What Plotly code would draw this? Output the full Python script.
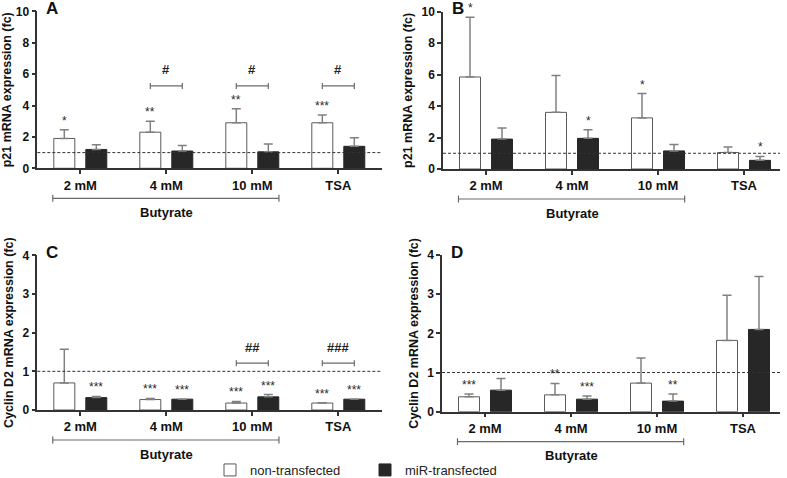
import plotly.graph_objects as go

# ---------------- data ----------------
categories = ["2 mM", "4 mM", "10 mM", "TSA"]
series_names = ["non-transfected", "miR-transfected"]
group_label = "Butyrate"

# Panel A: p21 (values, upper end of error bar)
a_non = [1.9, 2.3, 2.9, 2.9]
a_non_top = [2.45, 3.0, 3.8, 3.4]
a_mir = [1.2, 1.1, 1.05, 1.4]
a_mir_top = [1.5, 1.45, 1.55, 1.95]
a_non_sig = ["*", "**", "**", "***"]
a_mir_sig = ["", "", "", ""]
a_hash = ["", "#", "#", "#"]

# Panel B: p21
b_non = [5.85, 3.6, 3.25, 1.05]
b_non_top = [9.65, 5.95, 4.8, 1.4]
b_mir = [1.9, 1.95, 1.15, 0.55]
b_mir_top = [2.6, 2.5, 1.55, 0.8]
b_non_sig = ["*", "", "*", ""]
b_mir_sig = ["", "*", "", "*"]
b_hash = ["", "", "", ""]

# Panel C: Cyclin D2
c_non = [0.7, 0.27, 0.18, 0.18]
c_non_top = [1.57, 0.3, 0.22, 0.19]
c_mir = [0.32, 0.28, 0.34, 0.28]
c_mir_top = [0.35, 0.28, 0.4, 0.28]
c_non_sig = ["", "***", "***", "***"]
c_mir_sig = ["***", "***", "***", "***"]
c_hash = ["", "", "##", "###"]

# Panel D: Cyclin D2
d_non = [0.38, 0.43, 0.73, 1.82]
d_non_top = [0.45, 0.72, 1.37, 2.97]
d_mir = [0.55, 0.32, 0.27, 2.1]
d_mir_top = [0.85, 0.4, 0.45, 3.45]
d_non_sig = ["***", "**", "", ""]
d_mir_sig = ["", "***", "**", ""]
d_hash = ["", "", "", ""]

# ---------------- style / layout ----------------
W, H = 787, 478
FONT = "Liberation Sans, Arial, sans-serif"
AX = "#333333"
WHITE_LINE = "#5a5a5a"
DARK = "#272727"
ERR = "#808080"
CAT_PX = 86
BARGAP = 0.256
BARGROUPGAP = 0.344
OFF = (1 - BARGAP) / 4  # centre offset of each bar within its category


def fx(px):
    return px / W


def fy(py):
    return 1 - py / H


panels = [
    dict(letter="A", sx="", non=a_non, non_top=a_non_top, mir=a_mir, mir_top=a_mir_top,
         non_sig=a_non_sig, mir_sig=a_mir_sig, hash=a_hash, hash_level=5.25,
         xpx=(37.3, 382), ypx=(168.3, 11.3), ymax=10, dtick=2,
         title="p21 mRNA expression (fc)", legend=True),
    dict(letter="B", sx="2", non=b_non, non_top=b_non_top, mir=b_mir, mir_top=b_mir_top,
         non_sig=b_non_sig, mir_sig=b_mir_sig, hash=b_hash, hash_level=None,
         xpx=(443, 780), ypx=(169, 11.7), ymax=10, dtick=2,
         title="p21 mRNA expression (fc)", legend=False),
    dict(letter="C", sx="3", non=c_non, non_top=c_non_top, mir=c_mir, mir_top=c_mir_top,
         non_sig=c_non_sig, mir_sig=c_mir_sig, hash=c_hash, hash_level=1.21,
         xpx=(37.3, 382), ypx=(410, 255.3), ymax=4, dtick=1,
         title="Cyclin D2 mRNA expression (fc)", legend=False),
    dict(letter="D", sx="4", non=d_non, non_top=d_non_top, mir=d_mir, mir_top=d_mir_top,
         non_sig=d_non_sig, mir_sig=d_mir_sig, hash=d_hash, hash_level=None,
         xpx=(442, 780), ypx=(411.7, 255), ymax=4, dtick=1,
         title="Cyclin D2 mRNA expression (fc)", legend=False),
]

fig = go.Figure()
layout = dict(
    width=W, height=H, margin=dict(l=0, r=0, t=0, b=0, autoexpand=False),
    paper_bgcolor="white", plot_bgcolor="white",
    barmode="group", bargap=BARGAP, bargroupgap=BARGROUPGAP,
    font=dict(family=FONT, color="#222222"),
    showlegend=True,
)
shapes, annotations = [], []


def sig_annot(xref, yref, x, y, text):
    annotations.append(dict(xref=xref, yref=yref, x=x, y=y, text=text, showarrow=False,
                            yanchor="bottom", yshift=0,
                            font=dict(size=12, color="#2a2a2a", family=FONT)))


for p in panels:
    sx = p["sx"]
    xa, ya = "x" + sx, "y" + sx
    x0, x1 = p["xpx"]
    yb, yt = p["ypx"]
    ncat = (x1 - x0) / CAT_PX
    for name, vals, tops, fill, line in [
        (series_names[0], p["non"], p["non_top"], "white", WHITE_LINE),
        (series_names[1], p["mir"], p["mir_top"], DARK, DARK),
    ]:
        fig.add_trace(go.Bar(
            x=categories, y=vals, name=name, legendgroup=name, showlegend=p["legend"],
            xaxis=xa, yaxis=ya,
            marker=dict(color=fill, line=dict(color=line, width=1)),
            error_y=dict(type="data", symmetric=False,
                         array=[t - v for t, v in zip(tops, vals)],
                         arrayminus=[0] * len(vals),
                         color=ERR, thickness=1.5, width=4.5),
        ))
    ax_common = dict(showline=True, linecolor=AX, linewidth=1.5, ticks="outside",
                     ticklen=4, tickwidth=1.5, tickcolor=AX, showgrid=False, zeroline=False,
                     automargin=False)
    layout["xaxis" + sx] = dict(
        ax_common, domain=[fx(x0), fx(x1)], anchor=ya, type="category",
        range=[-0.5, -0.5 + ncat], categoryorder="array", categoryarray=categories,
        tickfont=dict(size=13, family=FONT, color="#111111", weight="bold"))
    layout["yaxis" + sx] = dict(
        ax_common, domain=[fy(yb), fy(yt)], anchor=xa,
        range=[0, p["ymax"]], dtick=p["dtick"], tick0=0,
        tickfont=dict(size=12, family=FONT, color="#111111", weight="bold"),
        title=dict(text="<b>" + p["title"] + "</b>", standoff=6,
                   font=dict(size=12.5, family=FONT, color="#111111")))

    # reference line at fold change 1
    shapes.append(dict(type="line", xref=xa + " domain", yref=ya, x0=0, x1=1, y0=1, y1=1,
                       line=dict(color="#333333", width=1, dash="3px,2px")))

    # significance marks vs control
    for i in range(len(categories)):
        if p["non_sig"][i]:
            sig_annot(xa, ya, i - OFF, p["non_top"][i], p["non_sig"][i])
        if p["mir_sig"][i]:
            sig_annot(xa, ya, i + OFF, p["mir_top"][i], p["mir_sig"][i])
        if p["hash"][i]:
            lv = p["hash_level"]
            shapes.append(dict(type="line", xref=xa, yref=ya, x0=i - OFF, x1=i + OFF,
                               y0=lv, y1=lv, line=dict(color="#6a6a6a", width=1.2)))
            for xe in (i - OFF, i + OFF):
                shapes.append(dict(type="line", xref=xa, yref=ya, x0=xe, x1=xe,
                                   ysizemode="pixel", yanchor=lv, y0=-3, y1=3,
                                   line=dict(color="#6a6a6a", width=1.2)))
            annotations.append(dict(xref=xa, yref=ya, x=i, y=lv, yshift=16,
                                    text="<b>" + p["hash"][i] + "</b>", showarrow=False,
                                    yanchor="middle",
                                    font=dict(size=13, color="#222222", family=FONT)))

    # "Butyrate" group bracket below the axis
    by = fy(yb + 30)
    bx0, bx1 = -0.32, 2.31
    shapes.append(dict(type="line", xref=xa, yref="paper", x0=bx0, x1=bx1, y0=by, y1=by,
                       line=dict(color="#6a6a6a", width=1.2)))
    for xe in (bx0, bx1):
        shapes.append(dict(type="line", xref=xa, yref="paper", x0=xe, x1=xe,
                           ysizemode="pixel", yanchor=by, y0=-3.5, y1=3.5,
                           line=dict(color="#6a6a6a", width=1.2)))
    annotations.append(dict(xref=xa, yref="paper", x=1, y=fy(yb + 44),
                            text="<b>" + group_label + "</b>", showarrow=False,
                            yanchor="middle",
                            font=dict(size=13, color="#111111", family=FONT)))

    # panel letter
    annotations.append(dict(xref="paper", yref="paper", x=fx(x0 + 14.5),
                            y=fy(yt - 3), text="<b>" + p["letter"] + "</b>",
                            showarrow=False, yanchor="middle", xanchor="center",
                            font=dict(size=17, color="#111111", family=FONT)))

layout["shapes"] = shapes
layout["annotations"] = annotations
layout["legend"] = dict(orientation="h", x=fx(210), xanchor="left", y=fy(470),
                        yanchor="middle", entrywidth=110, entrywidthmode="pixels",
                        font=dict(size=13, family=FONT, color="#222222"),
                        bgcolor="rgba(0,0,0,0)", traceorder="normal")
fig.update_layout(**layout)
# the figure fills the whole page: drop the browser's default body margin
fig.write_html("out.html", config={"displayModeBar": False},
               post_script="document.body.style.margin='0px';document.body.style.overflow='hidden';")
